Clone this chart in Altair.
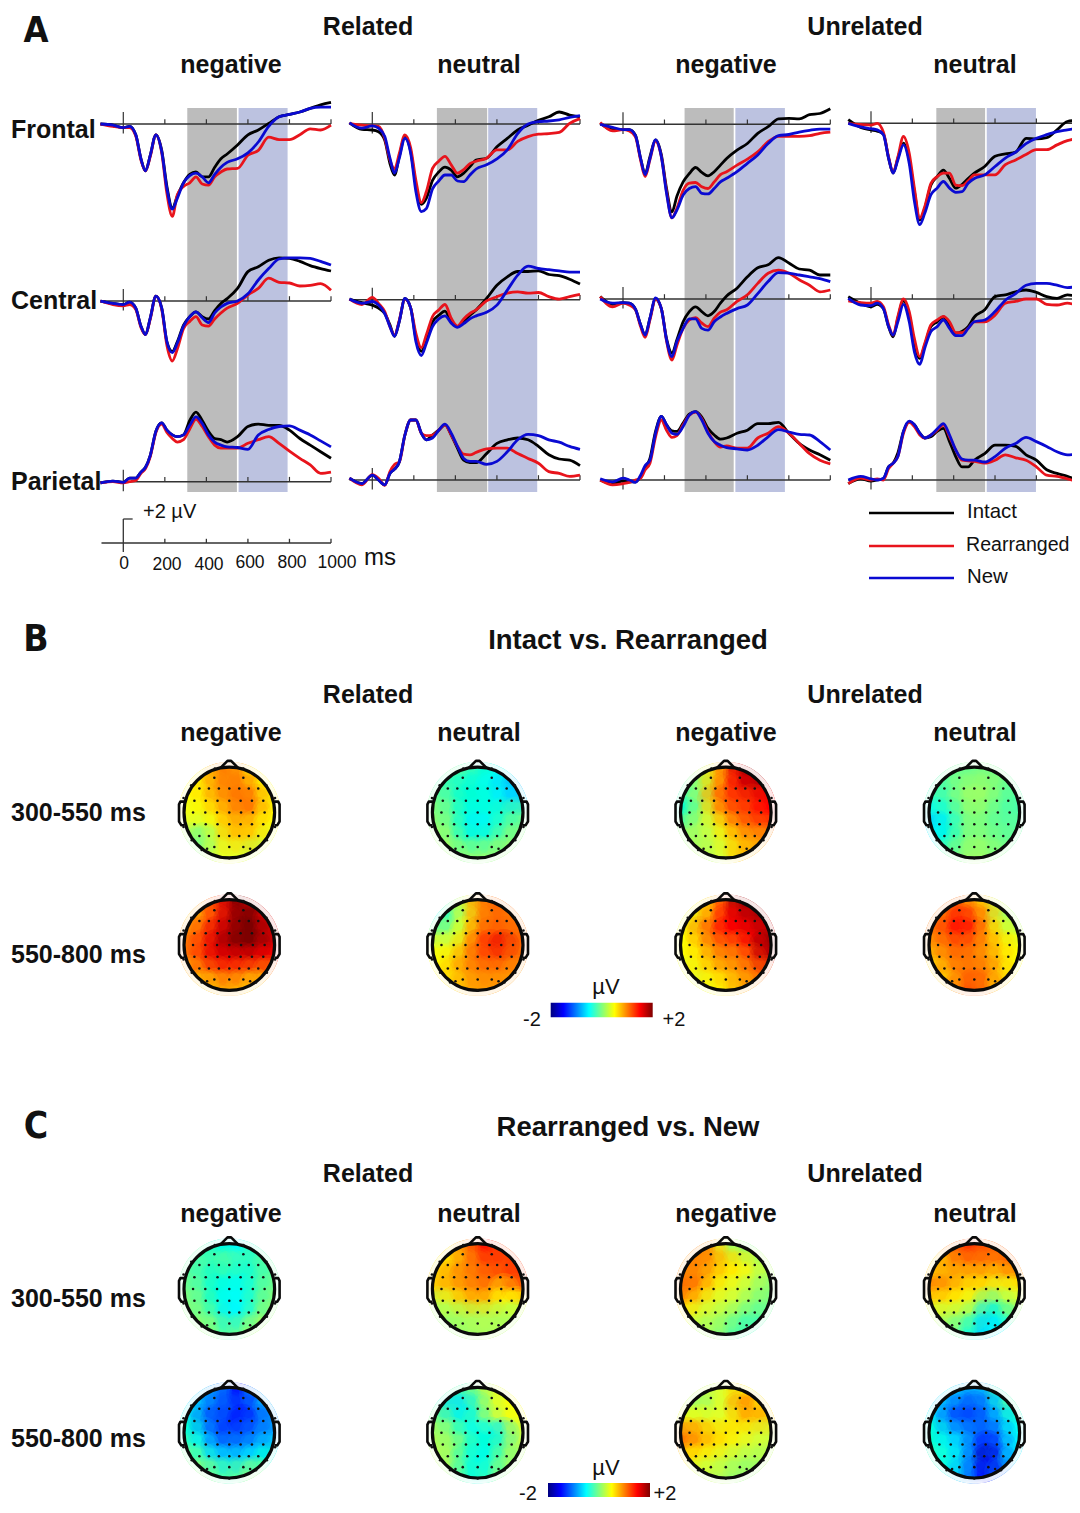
import altair as alt
import pandas as pd

TIMES = [-110,-50,0,30,60,85,107,130,157,185,210,236,260,290,320,350,380,410,440,470,500,550,600,650,700,750,800,850,900,950,1000]
CONDITIONS = ["Intact", "Rearranged", "New"]
LINE_COLORS = ["#000000", "#e8141c", "#0a0ad2"]

# Related, negative
RN_F_I = [0,-.1,-.3,-.2,-.9,-2.9,-3.9,-2.6,-.9,-2.2,-5.2,-7,-6,-4.9,-4.2,-4,-4.4,-4.4,-3.6,-2.9,-2.5,-1.75,-.9,-.5,.05,.6,.8,1,1.3,1.6,1.8]
RN_F_R = [0,-.2,-.3,-.3,-1,-3,-3.9,-2.7,-.9,-2.4,-5.8,-7.7,-5.9,-5.2,-4.9,-4.4,-5,-5.1,-4.4,-4,-3.75,-3.7,-2.6,-2.2,-1.1,-1.3,-1.3,-.9,-.4,-.5,-.1]
RN_F_N = [0,-.1,-.3,-.2,-.9,-2.9,-3.9,-2.6,-.9,-2.3,-5.4,-7.1,-6.2,-4.9,-4.3,-4.1,-4.4,-4.9,-4.2,-3.6,-3.2,-2.9,-2.4,-1.5,-.2,.6,.8,1,1.3,1.4,1.4]
RN_C_I = [0,-.2,-.3,-.1,-.6,-2.1,-2.8,-1.4,.4,-.6,-3.4,-4.2,-3.4,-2,-1.3,-.9,-1.3,-1.5,-.8,-.2,.2,1.05,2.45,2.85,3.4,3.6,3.55,3.3,2.95,2.7,2.5]
RN_C_R = [0,-.3,-.4,-.3,-.7,-2.2,-2.8,-1.5,.4,-.7,-3.7,-5,-4,-2.3,-1.7,-1.3,-2,-2.1,-1.5,-1,-.6,-.2,.5,1.05,1.9,1.55,1.5,1.25,1.3,1.45,.9]
RN_C_N = [0,-.2,-.3,-.1,-.6,-2.1,-2.8,-1.4,.4,-.6,-3.4,-4.3,-3.5,-2.1,-1.3,-.9,-1.4,-1.8,-1,-.5,-.2,0,.6,1.75,2.7,3.5,3.6,3.6,3.55,3.3,3]
RN_P_I = [-.1,.05,-.05,.3,.3,.8,1.2,2.2,4.2,4.9,4.3,3.9,3.75,3.9,5.1,5.8,5.1,4.2,3.6,3.5,3.3,3.75,4.6,4.8,4.7,4.7,4.3,3.6,3.05,2.5,1.95]
RN_P_R = [-.1,0,-.1,0,.1,.7,1.1,2.1,4.1,4.8,4.1,3.6,3.3,3.5,4.4,5.2,4.6,3.75,3.05,2.8,2.8,2.8,3.2,3.5,3.75,3.2,2.55,1.95,1.4,.7,.8]
RN_P_N = [-.1,.05,-.05,.3,.3,.8,1.2,2.2,4.2,4.9,4.3,3.9,3.75,3.9,4.7,5.4,4.85,3.9,3.3,3.05,2.9,2.85,2.7,3.9,4.35,4.6,4.65,4.3,3.9,3.4,2.9]
# Related, neutral
RU_F_I = [.1,-.45,-.5,-.65,-1.35,-3.3,-4.25,-2.7,-1.05,-2.3,-5.1,-6.7,-6.2,-4.7,-4,-3.6,-3.85,-4.4,-4.1,-3.55,-3,-2.85,-1.9,-1.2,-.5,-.1,.3,.6,1,.75,.6]
RU_F_R = [.05,-.1,-.15,-.2,-1.2,-3,-3.75,-2.45,-.9,-2,-4.7,-6.55,-5.65,-3.7,-3.1,-2.7,-3.4,-4.1,-3.8,-3.3,-3.1,-2.85,-2.15,-2.15,-1.45,-1.05,-.85,-.8,-.7,.05,.45]
RU_F_N = [.1,-.35,-.15,-.35,-1.05,-2.85,-4.1,-2.85,-1.2,-2.45,-5.65,-7.3,-7.05,-5.4,-4.75,-4.25,-4.25,-4.75,-4.8,-4.25,-3.75,-3.4,-2.9,-2.15,-.8,0,.2,.25,.35,.55,.7]
RU_C_I = [.05,-.25,-.45,-.7,-1.15,-2.1,-3.05,-1.8,.1,-.7,-3.2,-4.3,-3.35,-1.85,-1.3,-.95,-1.85,-2.25,-1.8,-1.3,-.85,.1,1.2,1.9,2.35,2.35,2.4,2.1,2,1.7,1.3]
RU_C_R = [.05,-.4,.2,-.3,-1,-2.25,-2.95,-1.7,.05,-.7,-2.8,-4,-2.95,-1.4,-.85,-.4,-1.55,-2.2,-1.6,-1.15,-.85,-.1,.25,.55,.65,.55,.6,.25,.05,.25,.45]
RU_C_N = [.05,-.3,-.15,-.45,-1.15,-2.25,-3.05,-1.8,.1,-.7,-3.5,-4.65,-3.65,-2.25,-1.6,-1.35,-1.95,-2.3,-2,-1.6,-1.35,-1.05,-.45,.8,2.05,2.8,2.6,2.5,2.4,2.3,2.3]
RU_P_I = [.15,-.3,.4,0,-.4,.55,.9,1.5,3.75,5,5,3.9,3.35,3.75,4.15,4.6,3.75,2.65,1.65,1.45,1.45,2.2,3.05,3.35,3.5,3.35,2.8,2.1,1.75,1.65,1.2]
RU_P_R = [.15,-.4,.45,.15,-.45,.7,1.3,1.5,3.75,5,5,3.9,3.7,3.75,4.15,4.6,3.75,2.8,2.15,2.1,2.3,2.6,2.65,2.65,2.2,1.8,1.4,.7,.55,.3,.4]
RU_P_N = [.15,-.3,.4,0,-.4,.55,.9,1.5,3.75,5,5,3.9,3.35,3.5,4.15,4.65,3.9,2.8,1.8,1.55,1.55,1.3,1.55,2.35,3.35,3.8,3.7,3.35,3.15,2.8,2.55]
# Unrelated, negative
UN_F_I = [.1,-.45,-.45,-.45,-.9,-2.85,-4.1,-2.7,-1.3,-2.55,-5.35,-7.3,-6,-4.8,-4.1,-3.6,-4,-4.3,-3.95,-3.4,-2.85,-2.15,-1.6,-.75,-.2,.45,.5,.45,.8,.9,1.3]
UN_F_R = [.15,-.55,-.45,-.55,-1.05,-3,-4.35,-2.95,-1.4,-2.7,-5.6,-7.8,-7,-5.5,-4.9,-4.85,-5.2,-5.35,-4.8,-4.2,-3.95,-3.4,-2.9,-2.3,-1.45,-1,-1,-1,-.95,-.75,-.65]
UN_F_N = [0,-.25,-.45,-.45,-.95,-2.85,-4.2,-2.85,-1.3,-2.7,-5.75,-7.8,-7.15,-5.9,-5.35,-5.2,-5.75,-5.8,-5.35,-4.8,-4.5,-3.95,-3.25,-2.55,-1.6,-.95,-.85,-.65,-.5,-.4,-.4]
UN_C_I = [.2,-.45,-.3,-.35,-.85,-2.15,-3,-1.6,0,-.8,-3.3,-4.5,-3.4,-1.9,-1.05,-.65,-1.05,-1.4,-1.05,-.35,.25,.9,1.85,2.6,2.85,3.45,3,2.5,2.4,2,2]
UN_C_R = [.2,-.65,-.35,-.5,-.9,-2.3,-3.2,-1.75,0,-.8,-3.5,-5.1,-3.85,-2.45,-1.75,-1.55,-2,-2.3,-1.6,-1.1,-.9,-.2,.35,1.3,2.15,2.4,2.15,1.6,1.15,.6,.75]
UN_C_N = [0,-.35,-.3,-.35,-.85,-2.15,-3,-1.6,.1,-.8,-3.4,-4.8,-3.55,-2.45,-1.65,-1.65,-2.45,-2.6,-1.9,-1.5,-1.2,-.8,-.5,.45,1.45,2.2,2.15,2,1.85,1.7,1.45]
UN_P_I = [0,-.3,-.1,-.15,-.15,.3,1,1.8,4.05,5.3,4.6,4.1,4.05,4.75,5.5,5.7,5.25,4.3,3.75,3.4,3.5,3.9,4.15,4.7,4.7,4.8,3.9,3.05,2.5,2.1,1.65]
UN_P_R = [0,-.4,-.3,-.2,0,.15,.85,1.4,3.6,5,4.15,3.55,3.7,4.6,5.4,5.65,5.1,4,3.2,2.75,2.85,2.65,2.65,3.5,3.9,4.45,3.9,3.05,2.2,1.65,1.35]
UN_P_N = [.1,-.15,.15,0,-.2,.4,1.2,1.65,3.9,5.3,4.6,3.9,3.8,4.45,5.4,5.7,5,3.9,3.2,2.9,2.7,2.6,2.5,2.9,3.6,4.2,4,3.8,3.75,3.2,2.5]
# Unrelated, neutral
UU_F_I = [.3,-.35,-.55,-.65,-.9,-2.9,-4.15,-2.9,-1.65,-3.05,-5.7,-8.05,-7.1,-5.15,-4.45,-3.9,-4.6,-5.4,-5.1,-4.6,-4.15,-3.6,-2.75,-2.55,-2.4,-1.25,-1.3,-1.2,-.55,.15,.25]
UU_F_R = [0,-.1,-.15,0,-.75,-2.8,-4.1,-2.8,-1.1,-2.5,-5.4,-7.9,-6.95,-5,-4.45,-4.15,-4.15,-5.15,-5.2,-4.8,-4.3,-4.3,-4.3,-3.45,-3.05,-2.6,-2.2,-2.2,-1.8,-1.45,-1.25]
UU_F_N = [0,-.3,-.45,-.55,-.95,-2.9,-4.15,-3.05,-1.8,-3.35,-6.5,-8.45,-7.5,-5.95,-5.4,-4.85,-5.4,-5.75,-5.7,-5,-4.6,-4.3,-3.6,-2.9,-2.4,-1.7,-1.25,-.95,-.7,-.55,-.4]
UU_C_I = [.2,-.35,-.65,-.45,-.8,-2.3,-3.15,-1.6,-.15,-1.35,-3.7,-4.95,-3.85,-2.3,-1.9,-1.5,-2.15,-2.85,-2.7,-2.3,-1.5,-.9,.2,.35,.6,.75,.55,.2,.05,.35,.2]
UU_C_R = [-.15,-.3,-.35,-.2,-.65,-2.15,-3,-1.45,0,-1.05,-3.3,-4.8,-3.7,-2.15,-1.75,-1.45,-1.9,-2.8,-2.8,-2.45,-1.9,-1.9,-1.35,-.35,-.2,0,0,-.45,-.5,-.35,-.55]
UU_C_N = [.05,-.5,-.55,-.35,-.8,-2.3,-3,-1.9,-.45,-1.9,-4.4,-5.45,-4.1,-2.7,-2.3,-1.75,-2.45,-3.05,-3.05,-2.45,-1.9,-1.75,-1.05,-.1,.45,1.15,1.3,1.3,1.15,.95,1.05]
UU_P_I = [-.3,.1,-.1,0,.1,1.1,1.4,2.25,4.05,4.85,4.6,3.9,3.5,3.6,4.05,4.3,3.2,1.95,1.1,1.1,1.65,2.2,2.9,2.9,2.8,2.1,1.65,.85,.55,.3,0]
UU_P_R = [-.3,.15,0,.1,0,.95,1.4,1.95,3.9,4.8,4.45,3.75,3.5,3.75,4.15,4.6,3.6,2.5,1.65,1.6,1.55,1.4,1.65,2.1,1.85,1.65,1.1,.4,.3,.1,-.15]
UU_P_N = [0,.3,.1,0,.15,1.1,1.4,1.95,4.05,4.9,4.6,3.9,3.5,3.75,4.25,4.7,3.75,2.5,1.75,1.65,1.65,1.5,1.95,2.65,3.05,3.55,3.2,2.8,2.35,2.1,2.15]

TICKS_MS = [200, 400, 600, 800, 1000]
GRAY_WINDOWS = [(308, 547), (311, 553), (297, 534), (316, 552)]
BLUE_WINDOWS = [(555, 791), (558, 794), (542, 781), (560, 798)]

# Topographies: rows front -> back, columns left -> right
B_E_RN = [.45,.55,.95,1,.9,.55,.3, .5,.65,.9,1,1,.8,.5, .5,.6,.85,.95,1.1,1,.6, .45,.5,.65,.85,1,1,.55, .4,.35,.5,.75,.75,.65,.5, .1,-.1,.35,.7,.75,.7,.4, .1,.1,.35,.45,.4,.3,.2]
B_E_RU = [.05,-.05,-.15,-.25,-.35,-.45,-.45, -.15,-.25,-.35,-.35,-.5,-.7,-.8, -.05,-.15,-.3,-.3,-.35,-.55,-.7, 0,-.1,-.35,-.4,-.35,-.25,-.15, .05,-.05,-.35,-.55,-.45,-.2,-.05, .15,0,-.25,-.35,-.25,-.05,.05, .25,.15,0,.05,.05,.1,.15]
B_E_UN = [0,.2,.6,1.1,1.6,1.9,1.8, -.1,.1,.7,1.2,1.5,1.7,1.7, -.2,.2,.9,1.3,1.4,1.4,1.5, -.3,.1,.6,1.1,1.3,1.4,1.5, 0,.2,.4,.7,1,1.2,1.3, .1,.2,.3,.55,.8,.9,.9, .1,.2,.25,.4,.7,.8,.7]
B_E_UU = [-.1,-.1,-.05,-.05,0,-.05,-.1, -.2,-.1,.05,.1,.1,0,-.1, -.2,-.15,.05,.15,.1,-.05,-.15, -.45,-.25,-.05,.1,0,-.1,-.15, -.7,-.45,-.1,.05,-.05,-.1,-.1, -.5,-.3,-.05,.05,0,-.05,-.1, -.2,-.1,0,.15,.1,0,-.1]
B_L_RN = [.6,.9,1.4,1.7,2,1.7,1.5, .7,1,1.4,1.7,2,2,1.6, 1,1.3,1.6,1.8,2,2,1.7, 1.1,1.4,1.65,1.9,2,2,1.7, 1.1,1.4,1.6,1.6,1.6,1.6,1.5, .8,1.1,1.3,1.4,1.3,1.2,1, .6,.7,.8,.9,.8,.7,.7]
B_L_RU = [-.3,-.1,.4,.9,1.1,1.2,1.2, -.4,-.1,.4,.9,1.1,1.1,1, .1,.1,.5,1,1.2,1.2,1.1, .4,.4,.7,1.3,1.45,1.6,1.2, .5,.6,.9,1.15,1.3,1.3,1.1, .5,.75,.9,1,1.05,1,.9, .4,.6,.8,.9,.9,.9,.7]
B_L_UN = [.4,.5,.8,1.4,1.8,1.9,1.8, .4,.7,1,1.5,1.6,1.7,1.8, .5,1,1.2,1.5,1.5,1.6,1.7, .5,.7,1,1.2,1.2,1.5,1.9, .5,.6,.85,1,1,1.3,1.7, .4,.55,.7,.85,.9,1.1,1.3, .3,.4,.5,.6,.8,.9,1]
B_L_UU = [1,1.1,1.2,.9,.7,.3,.1, 1,1.2,1.5,1.3,.9,.3,.1, 1.1,1.4,1.5,1.4,.9,.5,.3, .9,1.1,1.2,1.1,.9,.7,.5, .8,1,1.15,1,.9,.7,.5, .6,.9,1,1.05,1,.8,.5, .5,.7,1.1,1.3,1.05,.7,.4]
C_E_RN = [0,-.1,-.3,-.4,-.5,-.2,-.1, -.1,-.2,-.15,-.05,-.2,-.2,-.1, -.1,-.2,-.3,-.25,-.4,-.25,-.1, -.05,-.15,-.35,-.45,-.45,-.2,-.05, 0,-.1,-.3,-.5,-.45,-.2,0, .05,-.05,-.2,-.55,-.5,-.15,.1, .2,.1,0,-.2,-.05,.2,.3]
C_E_RU = [.6,.6,1,1.3,1.5,1.3,1.4, .55,.7,.9,1.15,1.35,1.3,1.4, .7,.9,1,1.05,1.2,1.25,1.4, .7,.8,.9,1,1.05,.6,1.1, .3,.45,.7,.8,.7,.5,.5, .1,.2,.2,.3,.25,.2,.2, .1,.1,.15,.15,.2,.2,.2]
C_E_UN = [.8,1,.9,.4,.1,0,-.1, .9,1,.9,.7,.6,.4,.2, 1,.95,.75,.6,.5,.4,.2, 1.1,1,.6,.45,.35,.2,.05, .9,.6,.4,.35,.3,.1,0, .5,.35,.3,.2,.05,-.1,-.1, .3,.2,.15,0,-.15,-.2,-.1]
C_E_UU = [.7,1,1.3,1.4,1.2,1.2,1.4, .6,.85,1,1.05,1,1,1.2, .8,.85,.8,.8,.8,.7,.9, 1,.9,.7,.6,.6,.4,.5, .6,.55,.5,.4,-.1,.05,.3, .3,.3,.2,0,-.6,-.3,0, .1,.05,-.1,-.4,-.7,-.5,-.1]
C_L_RN = [-.5,-.7,-1,-1.2,-1.5,-.9,-.6, -.6,-.9,-1.2,-1.3,-1.4,-1.1,-.8, -.4,-1.1,-1.3,-1.3,-1.5,-1.3,-1, -.3,-.8,-1.2,-1.4,-1.2,-1.1,-.9, -.2,-.5,-1,-1,-1,-.9,-.7, 0,-.2,-.6,-.7,-.7,-.5,-.3, .2,.1,-.1,-.2,-.1,.1,.3]
C_L_RU = [.2,-.1,-.2,0,.3,.45,.4, -.2,-.65,-.6,-.2,.25,.45,.5, 0,-.2,-.4,-.2,.15,.35,.5, .15,.05,-.25,-.5,-.4,-.55,.25, .2,.1,-.05,-.3,-.3,-.1,.25, .25,.1,-.25,-.45,-.4,0,.15, .3,.15,-.2,-.35,-.2,.1,.2]
C_L_UN = [.5,.3,.3,.4,.65,.5,.3, .3,.05,.25,.45,.95,1.05,.6, .45,.5,.4,.4,.6,.8,.75, 1,.9,.65,.6,.6,.45,.35, 1,.8,.7,.55,.45,.35,.3, .6,.5,.45,.35,.25,.2,.2, .4,.3,.25,.2,.1,.1,.2]
C_L_UU = [-.2,-.5,-.8,-.9,-.8,-.2,.3, -.6,-1,-1.2,-1.3,-1,-.6,-.1, -.5,-1.2,-1.3,-1.3,-1.1,-.8,-.4, -.3,-.7,-.9,-1,-1.2,-1,-.5, -.3,-.5,-.7,-1.1,-1.5,-1.2,-.6, -.2,-.4,-.7,-1.2,-1.8,-1.3,-.6, -.2,-.4,-.8,-1.2,-1.5,-1.1,-.5]

GRID_AXIS = [-.857, -.571, -.286, 0, .286, .571, .857]
ELEC_X = [-.33,.31, -.66,-.45,-.23,0,.22,.43,.64, -.77,-.52,-.26,0,.25,.5,.75, -.8,-.53,-.27,0,.26,.52,.78, -.77,-.52,-.26,0,.25,.5,.75, -.66,-.45,-.23,0,.22,.43,.64, -.33,0,.31,-.49,.46, -.84,-1.01,-1.01,-.83,-.61,-.32,.31,.82,1.01,1.01,.83,.59,0]
ELEC_Y = [.765,.765, .53,.53,.53,.53,.53,.53,.53, .26,.26,.26,.26,.26,.26,.26, 0,0,0,0,0,0,0, -.26,-.26,-.26,-.26,-.26,-.26,-.26, -.52,-.52,-.52,-.52,-.52,-.52,-.52, -.76,-.76,-.76,-.8,-.8, .6,.32,-.32,-.61,-.83,.97,.97,.6,.32,-.32,-.61,-.83,-1.01]
NOSE_X = [-.2, -.04, .04, .2]
NOSE_Y = [.98, 1.14, 1.14, .98]
EAR_X = [1.0, 1.08, 1.11, 1.11, 1.06, 1.0]
EAR_Y = [.24, .24, .18, -.2, -.28, -.28]

JET_STOPS = [-2, -1.5, -1, -.5, 0, .5, 1, 1.5, 2]
JET = ["#00007f", "#0000ff", "#007fff", "#00ffff", "#7fff7f", "#ffff00", "#ff7f00", "#ff0000", "#7f0000"]

W, H = 1064, 1497
SANS = "Liberation Sans"
jet_scale = alt.Scale(domain=JET_STOPS, range=JET, clamp=True)
line_scale = alt.Scale(domain=CONDITIONS, range=LINE_COLORS)
layers = []


def px(v):
    return v - 8


def one(**kw):
    return alt.Data(values=[kw])


def label(text, x, y, size=25, bold=True, align="center", font=SANS):
    layers.append(
        alt.Chart(one(t=text))
        .mark_text(fontSize=size, fontWeight="bold" if bold else "normal", align=align, baseline="middle", font=font, color="#111111")
        .encode(x=alt.value(px(x)), y=alt.value(px(y)), text="t:N")
    )


# ---------- ERP panels ----------
COL_X = [(123.3, 331), (372.3, 580), (623, 830.3), (871, 1077.7)]
ROW_BASE = [[124, 301, 481.7], [124, 299.7, 480], [124.3, 299, 480], [123.3, 299, 480]]
ERP = [
    [(RN_F_I, RN_F_R, RN_F_N), (RN_C_I, RN_C_R, RN_C_N), (RN_P_I, RN_P_R, RN_P_N)],
    [(RU_F_I, RU_F_R, RU_F_N), (RU_C_I, RU_C_R, RU_C_N), (RU_P_I, RU_P_R, RU_P_N)],
    [(UN_F_I, UN_F_R, UN_F_N), (UN_C_I, UN_C_R, UN_C_N), (UN_P_I, UN_P_R, UN_P_N)],
    [(UU_F_I, UU_F_R, UU_F_N), (UU_C_I, UU_C_R, UU_C_N), (UU_P_I, UU_P_R, UU_P_N)],
]


def xscale(col):
    a, b = COL_X[col]
    return alt.Scale(domain=[0, 1000], range=[px(a), px(b)], nice=False, zero=False)


def yscale(base):
    return alt.Scale(domain=[0, 1], range=[px(base), px(base) - 12], nice=False, zero=False)


for c in range(4):
    for windows, colour in ((GRAY_WINDOWS, "#bcbcbc"), (BLUE_WINDOWS, "#bcc2e0")):
        a, b = windows[c]
        layers.append(
            alt.Chart(one(a=a, b=b)).mark_rect(color=colour).encode(
                x=alt.X("a:Q", scale=xscale(c), axis=None),
                x2="b:Q",
                y=alt.value(px(108)),
                y2=alt.value(px(492)),
            )
        )
    for r in range(3):
        base = ROW_BASE[c][r]
        ys = yscale(base)
        xs = xscale(c)
        layers.append(
            alt.Chart(one(a=-110, b=1000, v=0)).mark_rule(color="#333333", strokeWidth=1.4).encode(
                x=alt.X("a:Q", scale=xs, axis=None), x2="b:Q", y=alt.Y("v:Q", scale=ys, axis=None)
            )
        )
        tick_rows = [{"t": 0, "lo": -.8, "hi": 1.0}] + [{"t": t, "lo": 0, "hi": .4} for t in TICKS_MS]
        layers.append(
            alt.Chart(alt.Data(values=tick_rows)).mark_rule(color="#333333", strokeWidth=1.2).encode(
                x=alt.X("t:Q", scale=xs, axis=None), y=alt.Y("lo:Q", scale=ys, axis=None), y2="hi:Q"
            )
        )
        rows = []
        for name, series in zip(CONDITIONS, ERP[c][r]):
            assert len(series) == len(TIMES), (c, r, name, len(series))
            rows += [{"ms": t, "uv": v, "cond": name} for t, v in zip(TIMES, series)]
        layers.append(
            alt.Chart(pd.DataFrame(rows)).mark_line(strokeWidth=2.8, interpolate="monotone").encode(
                x=alt.X("ms:Q", scale=xs, axis=None),
                y=alt.Y("uv:Q", scale=ys, axis=None),
                stroke=alt.Stroke("cond:N", scale=line_scale, legend=None),
                detail="cond:N",
            )
        )

# ---------- calibration ----------
cal_x = xscale(0)
cal_y = yscale(543)
layers.append(alt.Chart(one(a=-105, b=1000, v=0)).mark_rule(color="#333333", strokeWidth=1.3).encode(
    x=alt.X("a:Q", scale=cal_x, axis=None), x2="b:Q", y=alt.Y("v:Q", scale=cal_y, axis=None)))
layers.append(alt.Chart(alt.Data(values=[{"t": t, "lo": 0, "hi": .35} for t in TICKS_MS] + [{"t": 0, "lo": -.75, "hi": 2}])).mark_rule(color="#333333", strokeWidth=1.3).encode(
    x=alt.X("t:Q", scale=cal_x, axis=None), y=alt.Y("lo:Q", scale=cal_y, axis=None), y2="hi:Q"))
layers.append(alt.Chart(one(a=0, b=45, v=2)).mark_rule(color="#333333", strokeWidth=1.3).encode(
    x=alt.X("a:Q", scale=cal_x, axis=None), x2="b:Q", y=alt.Y("v:Q", scale=cal_y, axis=None)))
for t, x, y in (("0", 124, 564), ("200", 167, 565), ("400", 209, 565), ("600", 250, 563), ("800", 292, 563), ("1000", 337, 563)):
    label(t, x, y, size=17.5, bold=False)

# ---------- topographies ----------
MAP_X = [229.3, 477.7, 725.8, 974.3]
R = 45.3


def topo(values, cx, cy):
    assert len(values) == 49
    xs = alt.Scale(domain=[-1, 1], range=[px(cx - R), px(cx + R)], nice=False, zero=False)
    ys = alt.Scale(domain=[-1, 1], range=[px(cy + R), px(cy - R)], nice=False, zero=False)
    cells = []
    for i, gy in enumerate(reversed(GRID_AXIS)):
        for j, gx in enumerate(GRID_AXIS):
            if gx * gx + gy * gy <= 1.1:
                cells.append({"gx": gx, "gy": gy, "v": values[i * 7 + j]})
    cell_df = pd.DataFrame(cells)
    for d, op in ((22, 1), (26, .4), (32, .2)):
        layers.append(alt.Chart(cell_df).mark_circle(size=d * d, opacity=op, stroke=None).encode(
            x=alt.X("gx:Q", scale=xs, axis=None), y=alt.Y("gy:Q", scale=ys, axis=None),
            fill=alt.Fill("v:Q", scale=jet_scale, legend=None)))
    for inner, outer, op in ((R, R + 5.5, .9), (R + 5.5, R + 28, 1)):
        layers.append(alt.Chart(one(a=0, b=0)).mark_arc(innerRadius=inner, outerRadius=outer, theta=0, theta2=6.2832, fill="white", opacity=op).encode(
            x=alt.X("a:Q", scale=xs, axis=None), y=alt.Y("b:Q", scale=ys, axis=None)))
    layers.append(alt.Chart(one(a=0, b=0)).mark_point(shape="circle", filled=False, size=(2 * R) ** 2, stroke="#0a0a0a", strokeWidth=3.2, opacity=1).encode(
        x=alt.X("a:Q", scale=xs, axis=None), y=alt.Y("b:Q", scale=ys, axis=None)))
    outline = [("n", NOSE_X, NOSE_Y), ("l", [-v for v in EAR_X], EAR_Y), ("r", EAR_X, EAR_Y)]
    rows = [{"k": k, "o": i, "a": a, "b": b} for k, ax, ay in outline for i, (a, b) in enumerate(zip(ax, ay))]
    layers.append(alt.Chart(pd.DataFrame(rows)).mark_line(color="#0a0a0a", strokeWidth=2.6, strokeJoin="round").encode(
        x=alt.X("a:Q", scale=xs, axis=None), y=alt.Y("b:Q", scale=ys, axis=None), detail="k:N", order="o:Q"))
    elec = pd.DataFrame({"a": ELEC_X, "b": ELEC_Y})
    layers.append(alt.Chart(elec).mark_circle(size=6.5, color="#111111", opacity=1).encode(
        x=alt.X("a:Q", scale=xs, axis=None), y=alt.Y("b:Q", scale=ys, axis=None)))


for vals, x, y in [
    (B_E_RN, 0, 812.5), (B_E_RU, 1, 812.5), (B_E_UN, 2, 812.5), (B_E_UU, 3, 812.5),
    (B_L_RN, 0, 945), (B_L_RU, 1, 945), (B_L_UN, 2, 945), (B_L_UU, 3, 945),
    (C_E_RN, 0, 1289), (C_E_RU, 1, 1289), (C_E_UN, 2, 1289), (C_E_UU, 3, 1289),
    (C_L_RN, 0, 1432.7), (C_L_RU, 1, 1432.7), (C_L_UN, 2, 1432.7), (C_L_UU, 3, 1432.7),
]:
    topo(vals, MAP_X[x], y)

# ---------- colour bars ----------
jet_gradient = alt.LinearGradient(
    gradient="linear", x1=0, x2=1, y1=0, y2=0,
    stops=[alt.GradientStop(offset=(s + 2) / 4, color=c) for s, c in zip(JET_STOPS, JET)],
)
for x0, x1, y0, y1 in ((550.7, 652.7, 1002.7, 1017.3), (548, 650, 1483, 1497)):
    layers.append(alt.Chart(one(a=-2, b=2)).mark_rect(color=jet_gradient).encode(
        x=alt.X("a:Q", scale=alt.Scale(domain=[-2, 2], range=[px(x0), px(x1)], nice=False, zero=False), axis=None),
        x2="b:Q", y=alt.value(px(y0)), y2=alt.value(px(y1))))

# ---------- legend ----------
for name, colour, y, tx, fs in zip(CONDITIONS, LINE_COLORS, (513, 546, 578), (967, 966, 967), (20.4, 19.6, 20.4)):
    layers.append(alt.Chart(one(a=1)).mark_rule(color=colour, strokeWidth=2.4).encode(
        x=alt.value(px(869)), x2=alt.value(px(954)), y=alt.value(px(y))))
    label(name, tx, y - 1.5, size=fs, bold=False, align="left")

# ---------- text ----------
BLOCK = '"DejaVu Sans Condensed", "Liberation Sans", sans-serif'
label("A", 36, 31, size=36, font=BLOCK)
label("B", 36, 640, size=37, font=BLOCK)
label("C", 36, 1127, size=37, font=BLOCK)
label("Intact vs. Rearranged", 628, 641, size=27.5)
label("Rearranged vs. New", 628, 1128, size=27.5)
for head_y, sub_y in ((27, 65), (695, 733), (1174, 1214)):
    label("Related", 368, head_y)
    label("Unrelated", 865, head_y)
    for t, x in zip(("negative", "neutral", "negative", "neutral"), (231, 479, 726, 975)):
        label(t, x, sub_y)
for t, y in (("Frontal", 130), ("Central", 301), ("Parietal", 482)):
    label(t, 11, y, align="left")
for t, y in (("300-550 ms", 813), ("550-800 ms", 955), ("300-550 ms", 1299), ("550-800 ms", 1439)):
    label(t, 11, y, align="left")
label("+2 µV", 143, 512, size=20, bold=False, align="left")
label("ms", 364, 558, size=24, bold=False, align="left")
label("µV", 606, 987, size=22, bold=False)
label("-2", 532, 1020, size=20, bold=False)
label("+2", 674, 1020, size=20, bold=False)
label("µV", 606, 1468, size=22, bold=False)
label("-2", 528, 1494, size=20, bold=False)
label("+2", 665, 1494, size=20, bold=False)

chart = (
    alt.layer(*layers)
    .resolve_scale(x="independent", y="independent")
    .properties(width=W, height=H, padding=0, autosize=alt.AutoSizeParams(type="none"))
    .configure_view(stroke=None)
)
chart.save("out.html", embed_options={"renderer": "svg", "actions": False})
